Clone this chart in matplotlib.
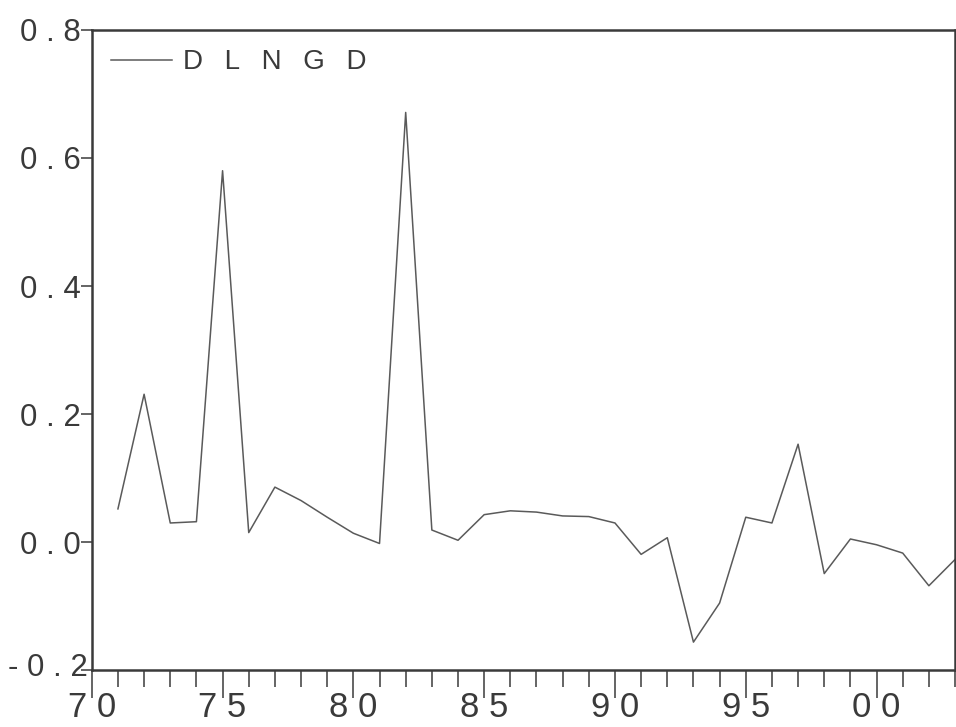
import numpy as np
import matplotlib.pyplot as plt
from matplotlib import font_manager
from matplotlib.transforms import ScaledTranslation
from matplotlib.ticker import FixedLocator, MultipleLocator

plt.rcParams["font.family"] = ["Liberation Sans", "DejaVu Sans"]

# annual growth series, 1971-2003
years = np.arange(1971, 2004)
dlngd = [0.052, 0.231, 0.030, 0.032, 0.580, 0.015, 0.086, 0.065, 0.039, 0.014,
         -0.002, 0.671, 0.019, 0.003, 0.043, 0.049, 0.047, 0.041, 0.040, 0.030,
         -0.019, 0.007, -0.156, -0.095, 0.039, 0.030, 0.153, -0.049, 0.005, -0.004,
         -0.017, -0.068, -0.027]

x_major = [1970, 1975, 1980, 1985, 1990, 1995, 2000]
x_labels = ["7 0", "7 5", "8 0", "8 5", "9 0", "9 5", "0 0"]
y_major = [-0.2, 0.0, 0.2, 0.4, 0.6, 0.8]
y_labels = ["- 0 . 2", "0 . 0", "0 . 2", "0 . 4", "0 . 6", "0 . 8"]

# narrow face for the year labels when one is available
names = {f.name for f in font_manager.fontManager.ttflist}
narrow = "Liberation Sans Narrow" if "Liberation Sans Narrow" in names else "Liberation Sans"

ink = "#3a3a3a"
fig = plt.figure(figsize=(9.56, 7.27), dpi=100)
ax = fig.add_axes([0.096, 0.078, 0.903, 0.881])

ax.plot(years, dlngd, color="#5a5a5a", lw=1.1, label="D\u2002 L\u2002 N\u2002 G\u2002 D")

ax.set_xlim(1970, 2003)
ax.set_ylim(-0.2, 0.8)

ax.xaxis.set_major_locator(FixedLocator(x_major))
ax.xaxis.set_minor_locator(MultipleLocator(1))
ax.set_xticklabels(x_labels, family=[narrow, "DejaVu Sans"])
ax.set_yticks(y_major)
ax.set_yticklabels(y_labels)

ax.tick_params(axis="x", which="major", direction="out", length=20, width=1.1,
               color=ink, labelsize=25 if narrow == "Liberation Sans" else 27,
               labelcolor=ink, pad=-5)
ax.tick_params(axis="x", which="minor", direction="out", length=12, width=1.1,
               color=ink)
ax.tick_params(axis="y", direction="out", length=8, width=1.1, color=ink,
               labelsize=22.5, labelcolor=ink, pad=0)
ax.tick_params(top=False, right=False)

# the bottom value label sits tighter against the axis
lbl = ax.get_yticklabels()[0]
lbl.set_transform(lbl.get_transform() + ScaledTranslation(0.07, 0.06, fig.dpi_scale_trans))

for s in ax.spines.values():
    s.set_color(ink)
    s.set_linewidth(1.8)

ax.legend(loc="upper left", frameon=False, fontsize=20, handlelength=2.2,
          handletextpad=0.4, borderaxespad=0.3, labelcolor=ink)

fig.savefig("out.png", dpi=100)
